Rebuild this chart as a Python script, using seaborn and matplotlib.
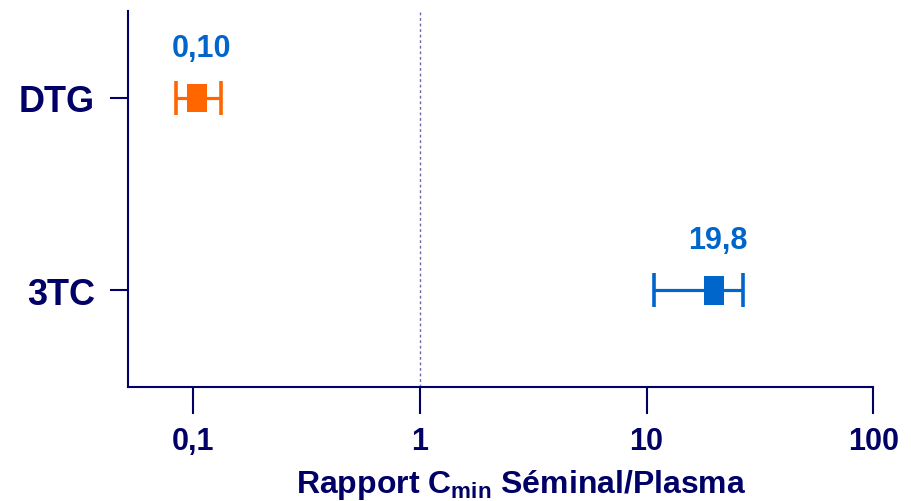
import numpy as np
import matplotlib
matplotlib.use("Agg")
import matplotlib.pyplot as plt
from matplotlib.path import Path
import seaborn as sns
import pandas as pd

# Seminal / plasma Cmin ratios with their ranges
drugs = ["DTG", "3TC"]
ratio = [0.104, 19.8]
ratio_low = [0.0839, 10.8]
ratio_high = [0.1325, 26.7]
label_decimals = [2, 1]
drug_colors = ["#ff6600", "#0066cc"]
label_color = "#0066cc"
xtick_values = [0.1, 1, 10, 100]
xtick_labels = ["0,1", "1", "10", "100"]

navy = "#000066"

sns.set_theme(style="white")
plt.rcParams["font.family"] = ["Liberation Sans", "DejaVu Sans"]
plt.rcParams["font.weight"] = "bold"
plt.rcParams["mathtext.fontset"] = "custom"
plt.rcParams["mathtext.rm"] = "Liberation Sans:bold"
plt.rcParams["mathtext.bf"] = "Liberation Sans:bold"

df = pd.DataFrame({
    "drug": drugs,
    "ratio": ratio,
    "low": ratio_low,
    "high": ratio_high,
    "pos": np.arange(len(drugs)),
})

fig = plt.figure(figsize=(9.11, 5.02), dpi=100)
ax = fig.add_axes([0.1408, 0.2277, 0.9586 - 0.1408, 0.976 - 0.2277])

# upright rectangular marker
rect = Path([(-0.35, -0.5), (0.35, -0.5), (0.35, 0.5), (-0.35, 0.5), (-0.35, -0.5)],
            [Path.MOVETO, Path.LINETO, Path.LINETO, Path.LINETO, Path.CLOSEPOLY])

for i, row in df.iterrows():
    ax.errorbar(row["ratio"], row["pos"],
                xerr=[[row["ratio"] - row["low"]], [row["high"] - row["ratio"]]],
                fmt="none", ecolor=drug_colors[i], elinewidth=2.3,
                capsize=12, capthick=2.6, zorder=2)

sns.scatterplot(data=df, x="ratio", y="pos", hue="drug", palette=drug_colors,
                marker=rect, s=420, linewidth=0, legend=False, ax=ax, zorder=3)

for i, row in df.iterrows():
    txt = f"{row['ratio']:.{label_decimals[i]}f}".replace(".", ",")
    ax.annotate(txt, (row["ratio"], row["pos"]), xytext=(3, 36),
                textcoords="offset points", ha="center", va="center",
                fontsize=22, fontweight="bold", color=label_color)

ax.axvline(1, color="#6a6aa8", lw=1, ls=(0, (2, 2)), zorder=1)

ax.set_xscale("log")
ax.set_xlim(0.0517, 100)
ax.set_ylim(1.5, -0.45)

ax.set_xticks(xtick_values)
ax.set_xticklabels(xtick_labels)
ax.xaxis.set_minor_locator(matplotlib.ticker.NullLocator())
ax.set_yticks(df["pos"])
ax.set_yticklabels(drugs)

for s in ["top", "right"]:
    ax.spines[s].set_visible(False)
for s in ["left", "bottom"]:
    ax.spines[s].set_color(navy)
    ax.spines[s].set_linewidth(1.5)

ax.tick_params(axis="x", which="major", direction="out", length=19.5, width=1.5,
               color=navy, labelcolor=navy, labelsize=22, pad=9, bottom=True)
ax.tick_params(axis="y", which="major", direction="out", length=13, width=1.5,
               color=navy, labelcolor=navy, labelsize=26, pad=11, left=True)
for lab in ax.get_xticklabels() + ax.get_yticklabels():
    lab.set_fontweight("bold")

ax.set_xlabel(r"Rapport $\mathrm{C_{min}}$ Séminal/Plasma", fontsize=23,
              fontweight="bold", color=navy, labelpad=8)
ax.xaxis.label.set_x(0.528)
ax.set_ylabel("")

fig.savefig("out.png", dpi=100)
